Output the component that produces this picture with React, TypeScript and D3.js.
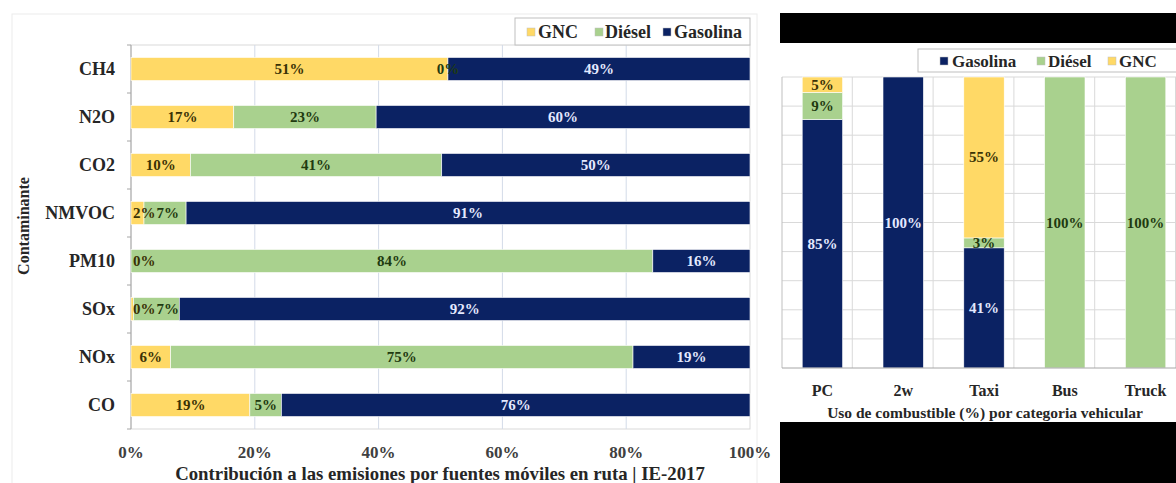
import React from "react";
import * as d3 from "d3";

// ---------- Left chart data ----------
const pollutants = ["CH4", "N2O", "CO2", "NMVOC", "PM10", "SOx", "NOx", "CO"];
const gncShare = [0.512, 0.166, 0.096, 0.021, 0.0, 0.004, 0.064, 0.192];
const dieselShare = [0.0, 0.23, 0.406, 0.068, 0.843, 0.074, 0.747, 0.051];
const gasolinaShare = [0.488, 0.604, 0.498, 0.911, 0.157, 0.922, 0.189, 0.757];
const xTicks = [0, 0.2, 0.4, 0.6, 0.8, 1.0];

// ---------- Right chart data ----------
const vehicles = ["PC", "2w", "Taxi", "Bus", "Truck"];
const vGasolina = [0.854, 1.0, 0.413, 0, 0];
const vDiesel = [0.093, 0, 0.034, 1.0, 1.0];
const vGnc = [0.053, 0, 0.553, 0, 0];
const yGrid = [0.1, 0.2, 0.3, 0.4, 0.5, 0.6, 0.7, 0.8, 0.9, 1.0];

const leftSeries = ["GNC", "Diésel", "Gasolina"];
const rightSeries = ["Gasolina", "Diésel", "GNC"];

const COLORS: Record<string, string> = {
  GNC: "#ffd966",
  "Diésel": "#a9d18e",
  Gasolina: "#0b2263",
};
const TEXT_ON: Record<string, string> = {
  GNC: "#3a3205",
  "Diésel": "#1f3a10",
  Gasolina: "#e4e9ff",
};

const FONT = "'Liberation Serif', 'Times New Roman', serif";
const pct = d3.format(".0%");

function textWidth(s: string, fs: number) {
  let w = 0;
  for (const ch of s) w += ch === "%" ? 1.0 : 0.5;
  return w * fs;
}

export default function App() {
  // Left chart scales
  const x = d3.scaleLinear().domain([0, 1]).range([131, 750]);
  const y = d3
    .scaleBand<string>()
    .domain(pollutants)
    .range([45, 429])
    .paddingInner(0.52)
    .paddingOuter(0.26);
  const step = y.step();

  const leftStack = d3
    .stack<any>()
    .keys(leftSeries)(
      pollutants.map((p, i) => ({
        p,
        GNC: gncShare[i],
        "Diésel": dieselShare[i],
        Gasolina: gasolinaShare[i],
      }))
    );

  const labelFs = 15;
  const leftLabels: { x: number; y: number; t: string; c: string }[] = [];
  pollutants.forEach((p, i) => {
    let prevRight = x(0) + 1;
    leftStack.forEach((layer) => {
      const d = layer[i];
      const v = d[1] - d[0];
      const t = pct(v);
      const w = textWidth(t, labelFs);
      let cx = (x(d[0]) + x(d[1])) / 2;
      if (cx - w / 2 < prevRight + 1) cx = prevRight + 1 + w / 2;
      prevRight = cx + w / 2;
      leftLabels.push({
        x: cx,
        y: (y(p) as number) + y.bandwidth() / 2,
        t,
        c: TEXT_ON[layer.key],
      });
    });
  });

  // Right chart scales
  const xr = d3
    .scaleBand<string>()
    .domain(vehicles)
    .range([782, 1186])
    .paddingInner(0.5)
    .paddingOuter(0.25);
  const yr = d3.scaleLinear().domain([0, 1]).range([368, 77]);
  const rightStack = d3
    .stack<any>()
    .keys(rightSeries)(
      vehicles.map((v, i) => ({
        v,
        Gasolina: vGasolina[i],
        "Diésel": vDiesel[i],
        GNC: vGnc[i],
      }))
    );

  return (
    <svg
      width={1176}
      height={483}
      style={{ position: "absolute", left: 0, top: 0, background: "#fff" }}
      fontFamily={FONT}
      fontWeight="bold"
    >
      <rect x={0} y={0} width={1176} height={483} fill="#fff" />
      <rect x={12} y={14} width={745} height={475} fill="none" stroke="#ececec" />

      {/* Left plot area */}
      <rect x={x(0)} y={45} width={x(1) - x(0)} height={384} fill="#fff" stroke="#d9d9d9" />
      {xTicks.slice(1, -1).map((t) => (
        <line key={t} x1={x(t)} x2={x(t)} y1={45} y2={429} stroke="#d3dbe8" strokeWidth={1} />
      ))}
      <line x1={x(0)} x2={x(0)} y1={45} y2={429} stroke="#a6a6a6" />
      {d3.range(pollutants.length + 1).map((i) => {
        const yy = 45 + step * i;
        return <line key={i} x1={x(0) - 4} x2={x(0)} y1={yy} y2={yy} stroke="#a6a6a6" />;
      })}

      {leftStack.map((layer) =>
        layer.map((d, i) => (
          <rect
            key={layer.key + i}
            x={x(d[0])}
            y={y(pollutants[i])}
            width={Math.max(0, x(d[1]) - x(d[0]))}
            height={y.bandwidth()}
            fill={COLORS[layer.key]}
            stroke="#ffffff"
            strokeWidth={0.6}
          />
        ))
      )}
      {leftLabels.map((l, i) => (
        <text
          key={i}
          x={l.x}
          y={l.y}
          textAnchor="middle"
          dominantBaseline="central"
          fontSize={labelFs}
          fill={l.c}
        >
          {l.t}
        </text>
      ))}

      {pollutants.map((p) => (
        <text
          key={p}
          x={115}
          y={(y(p) as number) + y.bandwidth() / 2}
          textAnchor="end"
          dominantBaseline="central"
          fontSize={18}
          fill="#262626"
        >
          {p}
        </text>
      ))}

      {xTicks.map((t) => (
        <text key={t} x={x(t)} y={458} textAnchor="middle" fontSize={17} fill="#404040">
          {d3.format(".0%")(t)}
        </text>
      ))}
      <text x={440} y={480} textAnchor="middle" fontSize={18.8} fill="#262626">
        Contribución a las emisiones por fuentes móviles en ruta | IE-2017
      </text>
      <text
        transform="translate(29,226) rotate(-90)"
        textAnchor="middle"
        fontSize={16}
        fill="#262626"
      >
        Contaminante
      </text>

      {/* Left legend */}
      <g>
        <rect x={515} y={18} width={235} height={27} fill="#fff" stroke="#bfbfbf" />
        {[
          { k: "GNC", sx: 527, tx: 538 },
          { k: "Diésel", sx: 595, tx: 605 },
          { k: "Gasolina", sx: 663, tx: 674 },
        ].map((it) => (
          <g key={it.k}>
            <rect x={it.sx} y={28} width={8} height={8} fill={COLORS[it.k]} stroke="#bfbfbf" strokeWidth={0.5} />
            <text x={it.tx} y={32} dominantBaseline="central" fontSize={18} fill="#262626">
              {it.k}
            </text>
          </g>
        ))}
      </g>

      {/* Right chart */}
      <rect x={780} y={13} width={396} height={30} fill="#000" />
      <rect x={780} y={422} width={396} height={61} fill="#000" />

      <rect x={918} y={49} width={270} height={23} fill="#fff" stroke="#bfbfbf" />
      {[
        { k: "Gasolina", sx: 940, tx: 952 },
        { k: "Diésel", sx: 1037, tx: 1048 },
        { k: "GNC", sx: 1108, tx: 1119 },
      ].map((it) => (
        <g key={it.k}>
          <rect x={it.sx} y={57} width={8} height={8} fill={COLORS[it.k]} stroke="#bfbfbf" strokeWidth={0.5} />
          <text x={it.tx} y={61} dominantBaseline="central" fontSize={17} fill="#262626">
            {it.k}
          </text>
        </g>
      ))}

      {yGrid.map((t) => (
        <line key={t} x1={782} x2={1186} y1={yr(t)} y2={yr(t)} stroke="#d9d9d9" />
      ))}
      {vehicles.map((v) => {
        const gx = (xr(v) as number) - xr.step() * 0.25 + xr.step() * 0.87;
        return <line key={v} x1={gx} x2={gx} y1={77} y2={368} stroke="#d9d9d9" />;
      })}
      <line x1={782} x2={782} y1={77} y2={368} stroke="#bfbfbf" />

      {rightStack.map((layer) =>
        layer.map((d, i) =>
          d[1] - d[0] > 0 ? (
            <rect
              key={layer.key + i}
              x={xr(vehicles[i])}
              y={yr(d[1])}
              width={xr.bandwidth()}
              height={yr(d[0]) - yr(d[1])}
              fill={COLORS[layer.key]}
              stroke="#ffffff"
              strokeWidth={0.6}
            />
          ) : null
        )
      )}
      <line x1={782} x2={1186} y1={368} y2={368} stroke="#a6a6a6" />
      {rightStack.map((layer) =>
        layer.map((d, i) =>
          d[1] - d[0] > 0 ? (
            <text
              key={"t" + layer.key + i}
              x={(xr(vehicles[i]) as number) + xr.bandwidth() / 2}
              y={(yr(d[0]) + yr(d[1])) / 2}
              textAnchor="middle"
              dominantBaseline="central"
              fontSize={15}
              fill={TEXT_ON[layer.key]}
            >
              {pct(d[1] - d[0])}
            </text>
          ) : null
        )
      )}
      {vehicles.map((v) => (
        <text
          key={v}
          x={(xr(v) as number) + xr.bandwidth() / 2}
          y={396}
          textAnchor="middle"
          fontSize={16}
          fill="#262626"
        >
          {v}
        </text>
      ))}
      <text x={985} y={418} textAnchor="middle" fontSize={15.5} fill="#262626">
        Uso de combustible (%) por categoria vehicular
      </text>
    </svg>
  );
}
